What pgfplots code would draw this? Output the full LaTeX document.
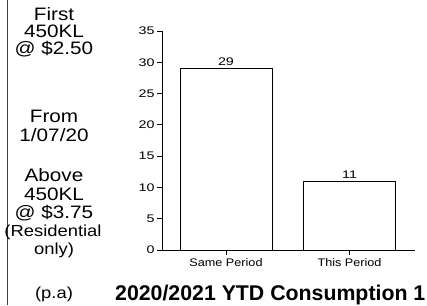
\documentclass[border=0pt]{standalone}
\usepackage{pgfplots}
\pgfplotsset{compat=1.18}
\usepackage{fontspec}
\setmainfont{Liberation Sans}[FakeStretch=1.15]
\newfontfamily\titlefont{Liberation Sans}
\newfontfamily\tickfont{Liberation Sans}[FakeStretch=1.3]
\newfontfamily\catfont{Liberation Sans}[FakeStretch=1.15]
\begin{document}
\begin{tikzpicture}[x=1pt,y=1pt]
\useasboundingbox (0,0) rectangle (427,305);
\draw[line width=0.8pt, black!75] (7,0) -- (7,305);
\begin{axis}[
  at={(162pt,55pt)}, anchor=south west,
  width=253pt, height=219pt, scale only axis,
  xmin=-0.518, xmax=1.53, ymin=0, ymax=35,
  axis lines=left,
  axis line style={-, line width=1pt, black},
  ytick={0,5,...,35},
  xtick={0,1}, xticklabels={Same Period, This Period},
  tick align=outside, major tick length=5pt,
  tick style={black, line width=0.8pt},
  /pgf/number format/assume math mode=true,
  y tick label style={font=\tickfont\fontsize{11}{12}\selectfont, xshift=1pt},
  x tick label style={font=\catfont\fontsize{11}{12}\selectfont},
  ybar, bar width=92pt,
  nodes near coords,
  nodes near coords style={font=\tickfont\fontsize{11}{12}\selectfont, yshift=-1pt},
  clip=false,
]
\addplot[draw=black, fill=white, line width=0.8pt] coordinates {(0,29) (1,11)};
\end{axis}
\begin{scope}[every node/.style={anchor=base, inner sep=0pt, font=\fontsize{18}{20}\selectfont}]
\node at (54,{305-20.5}) {First};
\node at (54,{305-37.5}) {450KL};
\node at (54,{305-54.5}) {@ \$2.50};
\node at (54,{305-122.5}) {From};
\node at (54,{305-142}) {1/07/20};
\node at (54,{305-182}) {Above};
\node at (54,{305-200}) {450KL};
\node at (54,{305-218}) {@ \$3.75};
\node[font=\fontsize{16}{18}\selectfont] at (53,{305-236}) {(Residential};
\node[font=\fontsize{16}{18}\selectfont] at (54,{305-254}) {only)};
\node[font=\fontsize{16}{18}\selectfont] at (54,{305-298}) {(p.a)};
\end{scope}
\node[anchor=base west, inner sep=0pt, font=\titlefont\bfseries\fontsize{21.3}{24}\selectfont] at (115,{305-300}) {2020/2021 YTD Consumption 1};
\end{tikzpicture}
\end{document}
